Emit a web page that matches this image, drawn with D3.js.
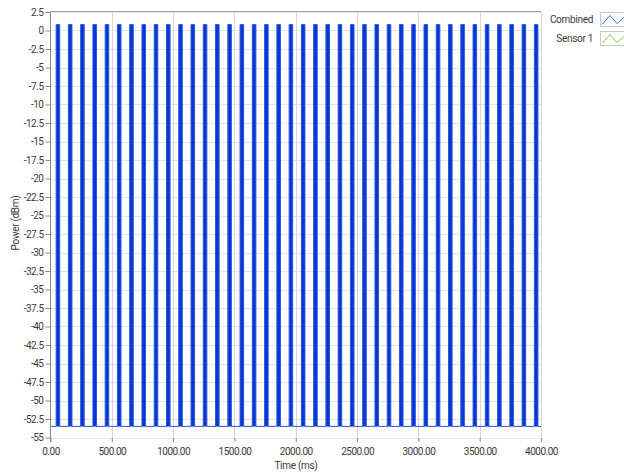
<!DOCTYPE html>
<html>
<head>
<meta charset="utf-8">
<script src="https://cdn.jsdelivr.net/npm/d3@7"></script>
<style>
  body { margin: 0; background: #fff; }
  svg { display: block; }
  text { font-family: Roboto, "Open Sans", sans-serif; fill: #3a3a3a; }
</style>
</head>
<body>
<div id="root"></div>
<script>
const width = 624;
const height = 476;

// pulse train (ms / dBm)
const pulseStart = [46, 146, 246, 346, 446, 546, 646, 746, 846, 946,
  1046, 1146, 1246, 1346, 1446, 1546, 1646, 1746, 1846, 1946,
  2046, 2146, 2246, 2346, 2446, 2546, 2646, 2746, 2846, 2946,
  3046, 3146, 3246, 3346, 3446, 3546, 3646, 3746, 3846, 3946];
const pulseEnd = [75, 175, 275, 375, 475, 575, 675, 775, 875, 975,
  1075, 1175, 1275, 1375, 1475, 1575, 1675, 1775, 1875, 1975,
  2075, 2175, 2275, 2375, 2475, 2575, 2675, 2775, 2875, 2975,
  3075, 3175, 3275, 3375, 3475, 3575, 3675, 3775, 3875, 3975];
const highPower = 0.8;
const lowPower = -53.5;

const yTicks = [2.5, 0, -2.5, -5, -7.5, -10, -12.5, -15, -17.5, -20, -22.5, -25,
  -27.5, -30, -32.5, -35, -37.5, -40, -42.5, -45, -47.5, -50, -52.5, -55];
const xTicks = [0, 500, 1000, 1500, 2000, 2500, 3000, 3500, 4000];
const legendNames = ["Combined", "Sensor 1"];
const legendColors = ["#3e6fd8", "#7cd45a"];

// build the waveform points
const points = [[0, lowPower]];
pulseStart.forEach((s, i) => {
  points.push([s, lowPower], [s, highPower], [pulseEnd[i], highPower], [pulseEnd[i], lowPower]);
});
points.push([4000, lowPower]);

const x = d3.scaleLinear().domain([0, 4000]).range([50.5, 541]);
const y = d3.scaleLinear().domain([-55, 2.5]).range([437.5, 12]);

const svg = d3.select("#root").append("svg")
  .attr("width", width)
  .attr("height", height);

// grid
svg.append("g")
  .selectAll("line")
  .data(yTicks)
  .join("line")
  .attr("x1", x(0)).attr("x2", x(4000))
  .attr("y1", (d) => Math.round(y(d)) + 0.5)
  .attr("y2", (d) => Math.round(y(d)) + 0.5)
  .attr("stroke", "#e6e6e6");

svg.append("g")
  .selectAll("line")
  .data(xTicks.slice(1))
  .join("line")
  .attr("x1", (d) => Math.round(x(d)) + 0.5)
  .attr("x2", (d) => Math.round(x(d)) + 0.5)
  .attr("y1", y(2.5)).attr("y2", y(-55))
  .attr("stroke", "#d6d6d6");

// top border
svg.append("line")
  .attr("x1", x(0)).attr("x2", x(4000))
  .attr("y1", 11.5).attr("y2", 11.5)
  .attr("stroke", "#a0a0a0");

// data
svg.append("path")
  .datum(points)
  .attr("fill", "#0636d6")
  .attr("d", d3.area().x((d) => x(d[0])).y0(y(lowPower)).y1((d) => y(d[1])));

svg.append("path")
  .datum(points)
  .attr("fill", "none")
  .attr("stroke", "#2a56dc")
  .attr("stroke-width", 1)
  .attr("d", d3.line().x((d) => x(d[0])).y((d) => y(d[1])));

// axes
const yAxis = svg.append("g")
  .attr("transform", `translate(${x(0)},0)`)
  .call(d3.axisLeft(y).tickValues(yTicks).tickSize(5).tickPadding(2)
    .tickFormat((d) => String(d)));
yAxis.select(".domain").attr("stroke", "#8a8a8a").attr("d", `M-0,${y(2.5)}V442`);
yAxis.selectAll(".tick line").attr("stroke", "#8a8a8a");
yAxis.selectAll(".tick text")
  .attr("font-size", 10).attr("letter-spacing", -0.5)
  .attr("font-family", "Roboto, sans-serif").attr("fill", "#3a3a3a");

const xAxis = svg.append("g")
  .attr("transform", `translate(0,438)`)
  .call(d3.axisBottom(x).tickValues(xTicks).tickSize(4).tickPadding(6)
    .tickFormat((d) => d.toFixed(2)));
xAxis.select(".domain").remove();
xAxis.selectAll(".tick line").attr("stroke", "#8a8a8a");
xAxis.selectAll(".tick text")
  .attr("font-size", 10).attr("letter-spacing", -0.5)
  .attr("font-family", "Roboto, sans-serif").attr("fill", "#3a3a3a");

// axis titles
svg.append("text")
  .attr("x", 296).attr("y", 469)
  .attr("text-anchor", "middle")
  .attr("font-size", 10).attr("letter-spacing", -0.3)
  .text("Time (ms)");

svg.append("text")
  .attr("transform", "translate(19,223) rotate(-90)")
  .attr("text-anchor", "middle")
  .attr("font-size", 10).attr("letter-spacing", -0.3)
  .text("Power (dBm)");

// legend
const legend = svg.append("g")
  .selectAll("g")
  .data(legendNames)
  .join("g")
  .attr("transform", (d, i) => `translate(0,${12.5 + i * 19})`);

legend.append("text")
  .attr("x", 593).attr("y", 10)
  .attr("text-anchor", "end")
  .attr("font-size", 10).attr("letter-spacing", -0.3)
  .text((d) => d);

legend.append("rect")
  .attr("x", 600.5).attr("y", 0)
  .attr("width", 24).attr("height", 14)
  .attr("fill", "#fff")
  .attr("stroke", "#c8c8c8");

legend.append("path")
  .attr("fill", "none")
  .attr("stroke", (d, i) => legendColors[i])
  .attr("stroke-width", 1)
  .attr("d", "M602,12L610,3L617,11L624,5");
</script>
</body>
</html>
